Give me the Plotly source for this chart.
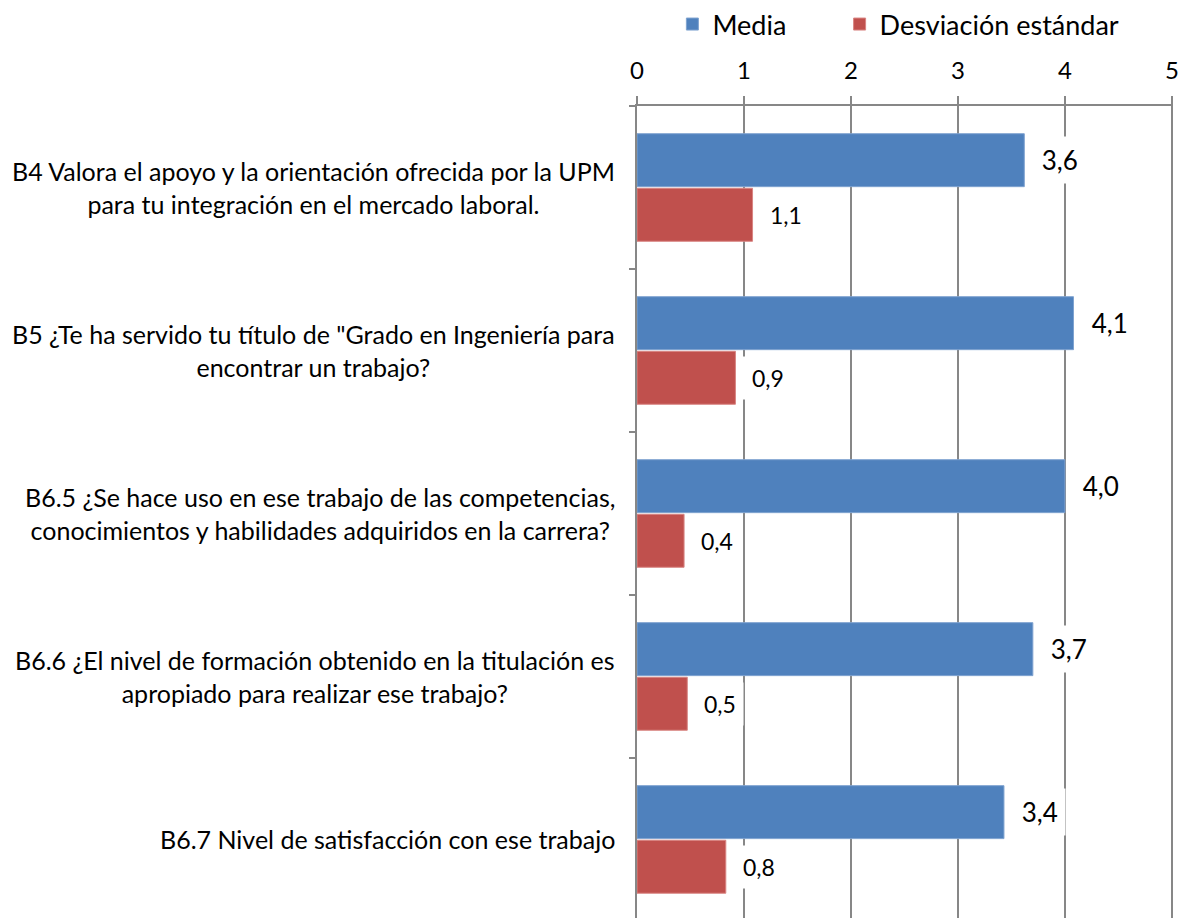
import plotly.graph_objects as go

categories = [
    "B4 Valora el apoyo y la orientación ofrecida por la UPM<br>para tu integración en el mercado laboral.",
    "B5 ¿Te ha servido tu título de \"Grado en Ingeniería para<br>encontrar un trabajo?",
    "B6.5 ¿Se hace uso en ese trabajo de las competencias,<br>conocimientos y habilidades adquiridos en la carrera?",
    "B6.6 ¿El nivel de formación obtenido en la titulación es<br>apropiado para realizar ese trabajo?",
    "B6.7 Nivel de satisfacción con ese trabajo",
]
cat_ids = ["B4", "B5", "B6.5", "B6.6", "B6.7"]
media = [3.62, 4.08, 4.00, 3.70, 3.43]
desviacion = [1.08, 0.92, 0.44, 0.47, 0.83]
series_names = ["Media", "Desviación estándar"]
x_ticks = [0, 1, 2, 3, 4, 5]

FONT = "Lato"
GRID = "#878787"
H = 918
T_MARGIN = 106
BARGAP = 0.33
BARGROUPGAP = 0.03
Y_RANGE = [4.482, -0.5]  # last category runs slightly past the bottom edge

fig = go.Figure()
fig.add_trace(go.Bar(
    y=cat_ids, x=media, orientation="h", name=series_names[0],
    marker=dict(color="#4F81BD", line=dict(color="#7FA3D0", width=1)),
    legend="legend",
))
fig.add_trace(go.Bar(
    y=cat_ids, x=desviacion, orientation="h", name=series_names[1],
    marker=dict(color="#C0504D", line=dict(color="#D98583", width=1)),
    legend="legend2",
))

for cid, label in zip(cat_ids, categories):
    fig.add_annotation(
        x=0, xref="paper", xanchor="right", xshift=-20,
        y=cid, yref="y", yanchor="middle",
        text=label, showarrow=False, align="center",
        font=dict(family=FONT, size=25, color="#000000"),
    )

# data labels with white background (like the original), half a bar slot
# above / below the category centre
cat_px = (H - T_MARGIN) / (Y_RANGE[0] - Y_RANGE[1])
half_slot = cat_px * (1 - BARGAP) / 4


def fmt(v):
    return f"{v:.1f}".replace(".", ",")


for values, shift, size in ((media, half_slot, 26), (desviacion, -half_slot, 23)):
    for cid, v in zip(cat_ids, values):
        fig.add_annotation(
            x=v, xref="x", xanchor="left", xshift=3,
            y=cid, yref="y", yanchor="middle", yshift=shift,
            text="\u00a0" + fmt(v), showarrow=False,
            bgcolor="white", borderpad=7,
            font=dict(family=FONT, size=size, color="#000000"),
        )

legend_style = dict(
    orientation="h", y=1.131, yanchor="top", xanchor="left",
    font=dict(family=FONT, size=27, color="#000000"),
    bgcolor="rgba(0,0,0,0)",
)

fig.update_layout(
    width=1180, height=H,
    margin=dict(l=637, r=7, t=T_MARGIN, b=0),
    paper_bgcolor="white", plot_bgcolor="white",
    barmode="group", bargap=BARGAP, bargroupgap=BARGROUPGAP,
    font=dict(family=FONT, color="#000000"),
    showlegend=True,
    legend=dict(x=0.066, **legend_style),
    legend2=dict(x=0.378, **legend_style),
    xaxis=dict(
        side="top", range=[0, 5.01], tickvals=x_ticks,
        showgrid=True, gridcolor=GRID, gridwidth=1.5,
        showline=True, linecolor=GRID, linewidth=1.5,
        ticks="outside", ticklen=8, tickcolor=GRID, tickwidth=1.5,
        tickfont=dict(family=FONT, size=24, color="#000000"),
        ticklabelstandoff=8, ticklabeloverflow="allow",
        zeroline=False, fixedrange=True,
    ),
    yaxis=dict(
        type="category", categoryorder="array", categoryarray=cat_ids,
        range=Y_RANGE, autorange=False, showticklabels=False,
        showgrid=False, zeroline=False,
        showline=True, linecolor=GRID, linewidth=1.5,
        ticks="outside", tickson="boundaries", ticklen=6,
        tickcolor=GRID, tickwidth=1.5,
    ),
)

fig.write_html("out.html")
